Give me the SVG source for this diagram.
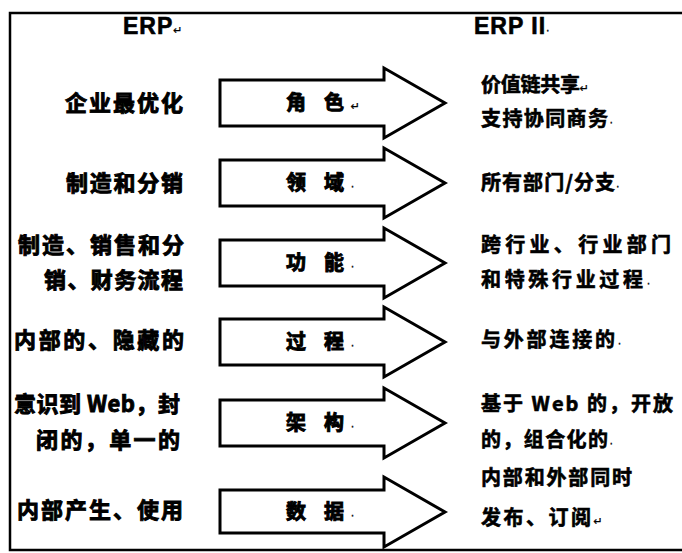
<svg xmlns="http://www.w3.org/2000/svg" width="682" height="553" viewBox="0 0 682 553">
<style>
.frame{fill:none;stroke:#000;stroke-width:2.5}
.arr{fill:#fff;stroke:#000;stroke-width:3;stroke-linejoin:miter}
.hd{font-family:"Liberation Sans","Noto Sans CJK SC",sans-serif;font-weight:bold;font-size:23px;letter-spacing:1px;fill:#000;stroke:#000;stroke-width:0.6}
.lt{font-family:"Noto Sans CJK SC","Liberation Sans",sans-serif;font-weight:bold;font-size:22px;fill:#000;stroke:#000;stroke-width:0.9}
.rt{font-family:"Noto Sans CJK SC","Liberation Sans",sans-serif;font-weight:bold;font-size:20px;fill:#000;stroke:#000;stroke-width:0.6}
.al{font-family:"Noto Sans CJK SC","Liberation Sans",sans-serif;font-weight:bold;font-size:20px;fill:#000;stroke:#000;stroke-width:1}
.mk{font-family:"DejaVu Sans",sans-serif;font-size:11px;font-weight:normal;letter-spacing:0;stroke-width:0.3}
</style>
<rect width="682" height="553" fill="#fff"/>
<rect class="frame" x="10" y="13" width="690" height="537"/>
<g id="headers">
<text class="hd" x="123" y="34">ERP<tspan class="mk">↵</tspan></text>
<text class="hd" x="474" y="34">ERP II<tspan class="mk">·</tspan></text>
</g>
<g id="connectors">
<path id="arrow-role" class="arr" d="M220,80 L384,80 L384,68 L445,103 L384,138 L384,126 L220,126 Z"/>
<path id="arrow-domain" class="arr" d="M220,160 L384,160 L384,148 L445,183 L384,218 L384,206 L220,206 Z"/>
<path id="arrow-function" class="arr" d="M220,240 L384,240 L384,228 L445,263 L384,298 L384,286 L220,286 Z"/>
<path id="arrow-process" class="arr" d="M220,319 L384,319 L384,307 L445,342 L384,377 L384,365 L220,365 Z"/>
<path id="arrow-arch" class="arr" d="M220,400 L384,400 L384,388 L445,423 L384,458 L384,446 L220,446 Z"/>
<path id="arrow-data" class="arr" d="M220,490 L384,490 L384,477 L445,512 L384,547 L384,533 L220,533 Z"/>
</g>
<g id="row-role">
<text class="lt" x="65" y="111" textLength="118" lengthAdjust="spacing">企业最优化</text>
<text class="al" x="286" y="110"><tspan textLength="58" lengthAdjust="spacing">角 色</tspan><tspan class="mk">↵</tspan></text>
<text class="rt" x="481" y="92"><tspan textLength="99" lengthAdjust="spacing">价值链共享</tspan><tspan class="mk">↵</tspan></text>
<text class="rt" x="481" y="126"><tspan textLength="127" lengthAdjust="spacing">支持协同商务</tspan><tspan class="mk">·</tspan></text>
</g>
<g id="row-domain">
<text class="lt" x="66" y="191" textLength="117" lengthAdjust="spacing">制造和分销</text>
<text class="al" x="286" y="190"><tspan textLength="58" lengthAdjust="spacing">领 域</tspan><tspan class="mk">·</tspan></text>
<text class="rt" x="481" y="190"><tspan textLength="134" lengthAdjust="spacing">所有部门/分支</tspan><tspan class="mk">·</tspan></text>
</g>
<g id="row-function">
<text class="lt" x="18" y="253" textLength="166" lengthAdjust="spacing">制造、销售和分</text>
<text class="lt" x="44" y="288" textLength="139" lengthAdjust="spacing">销、财务流程</text>
<text class="al" x="286" y="270"><tspan textLength="58" lengthAdjust="spacing">功 能</tspan><tspan class="mk">·</tspan></text>
<text class="rt" x="481" y="252" textLength="190" lengthAdjust="spacing">跨行业、行业部门</text>
<text class="rt" x="481" y="287"><tspan textLength="162" lengthAdjust="spacing">和特殊行业过程</tspan><tspan class="mk">·</tspan></text>
</g>
<g id="row-process">
<text class="lt" x="14" y="348" textLength="170" lengthAdjust="spacing">内部的、隐藏的</text>
<text class="al" x="286" y="349"><tspan textLength="58" lengthAdjust="spacing">过 程</tspan><tspan class="mk">·</tspan></text>
<text class="rt" x="481" y="347"><tspan textLength="134" lengthAdjust="spacing">与外部连接的</tspan><tspan class="mk">·</tspan></text>
</g>
<g id="row-architecture">
<text class="lt" x="14" y="412" textLength="166" lengthAdjust="spacing">意识到 Web，封</text>
<text class="lt" x="36" y="448" textLength="144" lengthAdjust="spacing">闭的，单一的</text>
<text class="al" x="286" y="430"><tspan textLength="58" lengthAdjust="spacing">架 构</tspan><tspan class="mk">·</tspan></text>
<text class="rt" x="481" y="411" textLength="192" lengthAdjust="spacing">基于 Web 的，开放</text>
<text class="rt" x="481" y="447"><tspan textLength="127" lengthAdjust="spacing">的，组合化的</tspan><tspan class="mk">·</tspan></text>
</g>
<g id="row-data">
<text class="lt" x="17" y="518" textLength="166" lengthAdjust="spacing">内部产生、使用</text>
<text class="al" x="286" y="519"><tspan textLength="58" lengthAdjust="spacing">数 据</tspan><tspan class="mk">·</tspan></text>
<text class="rt" x="481" y="485" textLength="151" lengthAdjust="spacing">内部和外部同时</text>
<text class="rt" x="481" y="525"><tspan textLength="110" lengthAdjust="spacing">发布、订阅</tspan><tspan class="mk">↵</tspan></text>
</g>
</svg>
